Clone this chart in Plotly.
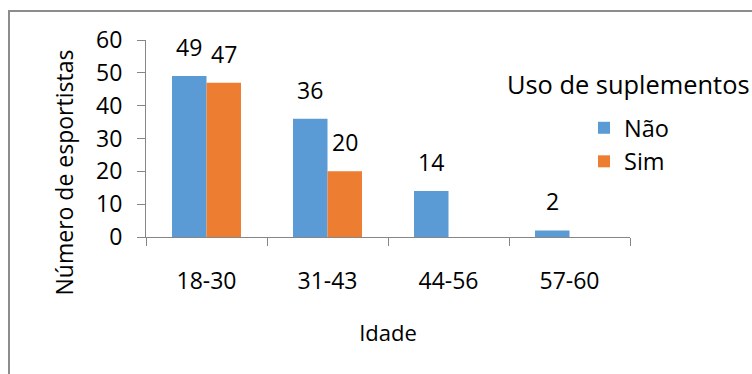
import plotly.graph_objects as go

# Faixas etárias e número de esportistas por uso de suplementos
faixas = ["18-30", "31-43", "44-56", "57-60"]
nao = [49, 36, 14, 2]
sim = [47, 20, None, None]

AZUL = "#5B9BD5"
LARANJA = "#ED7D31"
EIXO = "#868686"
FONTE = "Open Sans"

fig = go.Figure()
fig.add_trace(go.Bar(x=faixas, y=nao, name="Não", marker=dict(color=AZUL, line=dict(width=0))))
fig.add_trace(go.Bar(x=faixas, y=sim, name="Sim", marker=dict(color=LARANJA, line=dict(width=0))))

# rótulos de valor acima de cada barra
largura_barra = 34.5
for serie, desloc in ((nao, -largura_barra / 2), (sim, largura_barra / 2)):
    for faixa, valor in zip(faixas, serie):
        if valor is None:
            continue
        fig.add_annotation(
            x=faixa, y=valor, xref="x", yref="y", text=str(valor),
            showarrow=False, xanchor="center", yanchor="bottom",
            xshift=desloc, yshift=11,
            font=dict(family=FONTE, size=23, color="#000000"),
        )

# título da legenda
fig.add_annotation(
    x=(505 - 146) / 484, y=(237 - 84) / 197, xref="paper", yref="paper",
    text="Uso de suplementos", showarrow=False, xanchor="left", yanchor="middle",
    font=dict(family=FONTE, size=25.4, color="#000000"),
)

# título do eixo vertical, deslocado para baixo como no layout original
fig.add_annotation(
    x=(63 - 146) / 484, y=(237 - 172.5) / 197, xref="paper", yref="paper",
    text="Número de esportistas", showarrow=False, textangle=-90,
    xanchor="center", yanchor="middle",
    font=dict(family=FONTE, size=23, color="#000000"),
)

# moldura do gráfico
fig.add_shape(
    type="rect", xref="paper", yref="paper",
    x0=(9 - 146) / 484, x1=1.6, y0=-1.0, y1=(237 - 11) / 197,
    line=dict(color="#8C8C8C", width=2), fillcolor="rgba(0,0,0,0)", layer="below",
)

fig.update_layout(
    width=752, height=374,
    margin=dict(l=146, r=122, t=40, b=137, autoexpand=False),
    paper_bgcolor="white", plot_bgcolor="white",
    barmode="group", bargap=0.43, bargroupgap=0,
    font=dict(family=FONTE, size=22, color="#000000"),
    showlegend=True,
    legend=dict(
        xref="paper", yref="paper",
        x=(584 - 146) / 484, y=(237 - 106) / 197, xanchor="left", yanchor="top",
        font=dict(family=FONTE, size=23.5, color="#000000"),
        bgcolor="rgba(0,0,0,0)", tracegroupgap=0,
    ),
    xaxis=dict(
        type="category", range=[-0.5, 3.5],
        showline=True, linecolor=EIXO, linewidth=1,
        ticks="outside", ticklen=8, tickcolor=EIXO, tickson="boundaries",
        showgrid=False, zeroline=False, ticklabelstandoff=23,
        tickfont=dict(family=FONTE, size=23),
        title=dict(text="Idade", standoff=31, font=dict(family=FONTE, size=22)),
        fixedrange=True,
    ),
    yaxis=dict(
        range=[0, 60], dtick=10, tick0=0,
        showline=True, linecolor=EIXO, linewidth=1,
        ticks="outside", ticklen=8, tickcolor=EIXO,
        showgrid=False, zeroline=False, ticklabelstandoff=10,
        tickfont=dict(family=FONTE, size=23),
        fixedrange=True,
    ),
)

fig.write_html("out.html", config={"displayModeBar": False})
